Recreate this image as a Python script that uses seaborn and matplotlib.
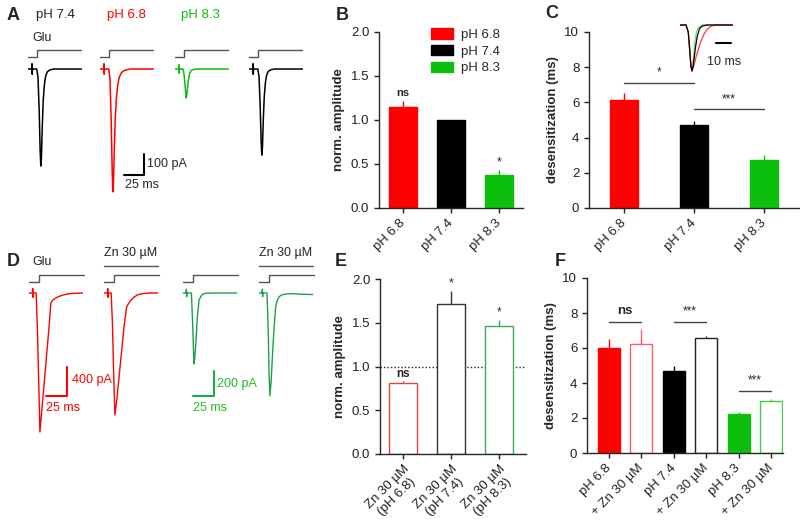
import numpy as np
import pandas as pd
import matplotlib
matplotlib.use('Agg')
import matplotlib.pyplot as plt
import seaborn as sns
from matplotlib.patches import Patch

# --- bar data ---
ph_labels = ['pH 6.8', 'pH 7.4', 'pH 8.3']
b_amp = [1.15, 1.0, 0.37]
b_sem = [0.07, 0.0, 0.06]
c_des = [6.15, 4.7, 2.7]
c_sem = [0.4, 0.25, 0.3]
e_labels = ['Zn 30 µM\n(pH 6.8)', 'Zn 30 µM\n(pH 7.4)', 'Zn 30 µM\n(pH 8.3)']
e_amp = [0.81, 1.72, 1.46]
e_sem = [0.03, 0.14, 0.07]
f_labels = ['pH 6.8', '+ Zn 30 µM', 'pH 7.4', '+ Zn 30 µM', 'pH 8.3', '+ Zn 30 µM']
f_des = [6.0, 6.25, 4.7, 6.6, 2.25, 3.0]
f_sem = [0.5, 0.85, 0.25, 0.1, 0.1, 0.1]

c_sig = [(0, 1, 7.1, '*'), (1, 2, 5.6, '***')]
f_sig = [(0, 1, 7.5, 'ns'), (2, 3, 7.5, '***'), (4, 5, 3.55, '***')]

# --- example currents (ms, pA) ---
glu_t = [0, 11.5, 11.5, 66]
glu_v = [0, 0, 1, 1]

a74_t = [0, 4.5, 5, 5.3, 5.6, 6, 11, 12.5, 14, 15.2, 16, 16.8, 17.8, 19, 20.5, 22, 24, 27, 32, 45, 67]
a74_i = [0, 0, 25, -25, 0, 0, 0, -40, -200, -390, -462, -420, -280, -150, -75, -35, -14, -5, 0, 0, 0]
a68_t = [0, 4.5, 5, 5.3, 5.6, 6, 11, 12.5, 14, 15.2, 16, 16.8, 17.8, 19, 20.5, 22, 24, 27, 31, 38, 67]
a68_i = [0, 0, 25, -25, 0, 0, 0, -50, -250, -480, -585, -545, -390, -240, -140, -80, -40, -16, -6, 0, 0]
a83_t = [0, 4.5, 5, 5.3, 5.6, 6, 10, 11.5, 13, 14, 15, 16.5, 18, 20, 23, 30, 67]
a83_i = [0, 0, 20, -20, 0, 0, 0, -30, -100, -138, -115, -60, -25, -8, -2, 0, 0]
a74b_t = [0, 4.5, 5, 5.3, 5.6, 6, 11, 12.5, 14, 15.2, 16, 16.8, 17.8, 19, 20.5, 22, 24, 27, 32, 45, 67]
a74b_i = [0, 0, 25, -25, 0, 0, 0, -35, -180, -345, -410, -375, -250, -135, -65, -30, -12, -4, 0, 0, 0]

d68_t = [0, 4, 4.5, 4.8, 5.1, 5.5, 8.5, 10, 11.5, 13, 15, 18, 21, 24, 26, 28, 31, 35, 40, 46, 55, 64]
d68_i = [0, 0, 60, -60, 0, 0, 0, -500, -1200, -1917, -1650, -1250, -850, -450, -140, -100, -75, -50, -30, -12, -3, 0]
d68zn_t = [0, 4, 4.5, 4.8, 5.1, 5.5, 8.5, 10, 11.5, 13, 15, 18, 21, 24, 27, 29, 32, 36, 40, 46, 55, 64]
d68zn_i = [0, 0, 60, -60, 0, 0, 0, -400, -1100, -1683, -1500, -1150, -800, -450, -190, -150, -100, -55, -25, -8, 0, 0]
d83_t = [0, 3.5, 4, 4.3, 4.6, 5, 10, 11.5, 13, 14, 15.5, 17, 19, 21, 23, 26, 35, 64]
d83_i = [0, 0, 30, -30, 0, 0, 0, -250, -568, -520, -380, -200, -60, -30, -12, -3, 0, 0]
d83zn_t = [0, 3.5, 4, 4.3, 4.6, 5, 9.5, 11, 12, 13, 14.5, 16, 18, 20, 22, 24, 27, 32, 40, 50, 64]
d83zn_i = [0, 0, 30, -30, 0, 0, 0, -300, -650, -824, -700, -500, -270, -100, -55, -30, -15, -8, -5, -10, -12]

# normalised traces for the inset in C
in74_t = [0, 4, 5.5, 6.5, 7.3, 8, 8.7, 9.5, 10.5, 11.5, 13, 15, 18, 35]
in74_v = [0, 0, -0.15, -0.55, -0.9, -1.0, -0.9, -0.7, -0.45, -0.25, -0.08, -0.02, 0, 0]
in68_t = [0, 4, 5.5, 6.5, 7.3, 8, 8.7, 9.5, 10.5, 12, 14, 16, 18, 20, 23, 35]
in68_v = [0, 0, -0.15, -0.55, -0.9, -1.0, -0.95, -0.85, -0.72, -0.55, -0.35, -0.2, -0.1, -0.04, 0, 0]
in83_t = [0, 4, 5.5, 6.5, 7.3, 8, 8.6, 9.3, 10, 11, 12.5, 15, 35]
in83_v = [0, 0, -0.15, -0.55, -0.9, -1.0, -0.85, -0.6, -0.35, -0.15, -0.04, 0, 0]

RED = '#ff0000'
BLACK = '#000000'
GREEN = '#0cbf0c'
DGREEN = '#1e9e4a'
GRAY = '#555555'

sns.set_theme(style='ticks')
plt.rcParams['font.family'] = ['Liberation Sans', 'DejaVu Sans']
plt.rcParams['axes.linewidth'] = 1.0
plt.rcParams['xtick.major.size'] = 3.5
plt.rcParams['ytick.major.size'] = 3.5
plt.rcParams['xtick.labelsize'] = 9.5
plt.rcParams['ytick.labelsize'] = 9.5

W, H = 800, 521
fig = plt.figure(figsize=(8, 5.21), dpi=100)


def px_axes(x0, y0, x1, y1):
    return fig.add_axes([x0 / W, 1 - y1 / H, (x1 - x0) / W, (y1 - y0) / H])


def trace_axes(x0, base_y, top_y, bot_y, width_px, ms_per_px, px_per_pa):
    ax = px_axes(x0, top_y, x0 + width_px, bot_y)
    ax.set_xlim(0, width_px * ms_per_px)
    ax.set_ylim(-(bot_y - base_y) / px_per_pa, (base_y - top_y) / px_per_pa)
    ax.set_axis_off()
    return ax


def step_axes(x0, hi_y, lo_y, width_px, ms_per_px):
    ax = px_axes(x0, hi_y, x0 + width_px, lo_y)
    ax.set_xlim(0, width_px * ms_per_px)
    ax.set_ylim(0, 1)
    ax.set_axis_off()
    sns.lineplot(x=glu_t, y=glu_v, ax=ax, color=GRAY, lw=1.0, estimator=None, sort=False, clip_on=False)
    return ax


def trace(ax, t, i, color, lw=1.0):
    sns.lineplot(x=t, y=i, ax=ax, color=color, lw=lw, estimator=None, sort=False)


def bar_panel(ax, vals, sems, face, edge, width):
    keys = [str(k) for k in range(len(vals))]
    sns.barplot(x=keys, y=vals, hue=keys, palette=edge, saturation=1, width=width,
                legend=False, ax=ax, linewidth=1.0)
    for p, fc, ec in zip(ax.patches, face, edge):
        p.set_facecolor(fc)
        p.set_edgecolor(ec)
    for k, (v, s, ec) in enumerate(zip(vals, sems, edge)):
        if s > 0:
            ax.errorbar(k, v, yerr=[[0], [s]], fmt='none', ecolor=ec, elinewidth=1.0, capsize=0)
    sns.despine(ax=ax)
    ax.set_xlabel('')
    ax.tick_params(axis='both', colors='#222222', width=1.0, direction='out')


# ---------------- Panel A ----------------
A_MS = 25 / 20
A_PX = 21 / 100
a_traces = [(28, a74_t, a74_i, BLACK), (100, a68_t, a68_i, RED),
            (175, a83_t, a83_i, GREEN), (249, a74b_t, a74b_i, BLACK)]
a_axes = []
for x0, t, i, col in a_traces:
    ax = trace_axes(x0, 69, 60, 200, 54, A_MS, A_PX)
    trace(ax, t, i, col, lw=1.1)
    step_axes(x0, 50, 57, 54, A_MS)
    a_axes.append(ax)

# scale bar (25 ms, 100 pA) in the red trace axes
ax = a_axes[1]
sb_y = -(175 - 69) / A_PX
ax.plot([30, 55, 55], [sb_y, sb_y, sb_y + 100], color=BLACK, lw=1.5, clip_on=False)
ax.text(59, sb_y + 50, '100 pA', fontsize=9, va='center', ha='left')
ax.text(31, sb_y - 20, '25 ms', fontsize=9, va='top', ha='left')

fig.text(7 / W, 1 - 15 / H, 'A', fontsize=13, fontweight='bold', va='center')
fig.text(55 / W, 1 - 15 / H, 'pH 7.4', fontsize=9.5, color='#222222', ha='center', va='center')
fig.text(126 / W, 1 - 15 / H, 'pH 6.8', fontsize=9.5, color=RED, ha='center', va='center')
fig.text(200 / W, 1 - 15 / H, 'pH 8.3', fontsize=9.5, color=GREEN, ha='center', va='center')
fig.text(32 / W, 1 - 38 / H, 'Glu', fontsize=9, color='#222222', ha='left', va='center')

# ---------------- Panel B ----------------
axB = px_axes(379, 32, 523, 208)
bar_panel(axB, b_amp, b_sem, [RED, BLACK, GREEN], [RED, BLACK, GREEN], 0.6)
axB.set_xlim(-0.5, 2.5)
axB.set_ylim(0, 2)
axB.set_yticks([0, 0.5, 1.0, 1.5, 2.0])
axB.set_yticklabels(['0.0', '0.5', '1.0', '1.5', '2.0'])
axB.set_xticks(range(3))
axB.set_xticklabels(ph_labels, rotation=45, ha='right', va='center', rotation_mode='anchor')
axB.tick_params(axis='x', pad=6)
axB.set_ylabel('norm. amplitude', fontsize=9.5, fontweight='bold')
axB.text(0, b_amp[0] + b_sem[0] + 0.03, 'ns', ha='center', va='bottom', fontsize=8, fontweight='bold')
axB.text(2, b_amp[2] + b_sem[2] + 0.02, '*', ha='center', va='bottom', fontsize=9)
handles = [Patch(facecolor=c, edgecolor=c, label=l) for c, l in zip([RED, BLACK, GREEN], ph_labels)]
axB.legend(handles=handles, loc='upper left', bbox_to_anchor=(0.36, 1.02), frameon=False,
           handlelength=1.7, handleheight=0.8, labelspacing=0.3, handletextpad=0.6,
           fontsize=9.5, borderaxespad=0, borderpad=0)
fig.text(336 / W, 1 - 15 / H, 'B', fontsize=13, fontweight='bold', va='center')

# ---------------- Panel C ----------------
axC = px_axes(589, 32, 799, 208)
bar_panel(axC, c_des, c_sem, [RED, BLACK, GREEN], [RED, BLACK, GREEN], 0.4)
axC.set_xlim(-0.5, 2.5)
axC.set_ylim(0, 10)
axC.set_yticks([0, 2, 4, 6, 8, 10])
axC.set_xticks(range(3))
axC.set_xticklabels(ph_labels, rotation=45, ha='right', va='center', rotation_mode='anchor')
axC.tick_params(axis='x', pad=6)
axC.set_ylabel('desensitization (ms)', fontsize=9.5, fontweight='bold')
for x0, x1, y, s in c_sig:
    axC.plot([x0, x1], [y, y], color='#444444', lw=1.0)
    axC.text((x0 + x1) / 2, y + 0.25, s, ha='center', va='bottom', fontsize=8.5)
fig.text(545 / W, 1 - 14 / H, 'C', fontsize=13, fontweight='bold', va='center')

# inset of normalised currents
IN_MS = 10 / 15
IN_PX = 46.0
axI = trace_axes(680, 25, 20, 75, 53, IN_MS, IN_PX)
trace(axI, in83_t, in83_v, '#66dd66', lw=0.9)
trace(axI, in68_t, in68_v, '#ff3b3b', lw=0.9)
trace(axI, in74_t, in74_v, BLACK, lw=0.9)
in_y = -(43 - 25) / IN_PX
axI.plot([24, 34], [in_y, in_y], color=BLACK, lw=1.5, clip_on=False)
axI.text(29.5, -(62 - 25) / IN_PX, '10 ms', fontsize=9, ha='center', va='center')

# ---------------- Panel D ----------------
D_MS = 25 / 21
D_PX_R = 29 / 400
D_PX_G = 25 / 200
d_traces = [(29, d68_t, d68_i, RED, D_PX_R), (104, d68zn_t, d68zn_i, RED, D_PX_R),
            (183, d83_t, d83_i, DGREEN, D_PX_G), (259, d83zn_t, d83zn_i, DGREEN, D_PX_G)]
d_axes = []
for x0, t, i, col, pxpa in d_traces:
    ax = trace_axes(x0, 293, 285, 440, 54, D_MS, pxpa)
    trace(ax, t, i, col, lw=1.0)
    sax = step_axes(x0, 275, 282, 54, D_MS)
    d_axes.append((ax, sax))

for k in (1, 3):
    sax = d_axes[k][1]
    sax.plot([0, 1], [2.3, 2.3], transform=sax.transAxes, color=GRAY, lw=1.0, clip_on=False)
    sax.text(0.5, 4.1, 'Zn 30 µM', transform=sax.transAxes, fontsize=9, color='#222222',
             ha='center', va='center')
fig.text(32 / W, 1 - 262 / H, 'Glu', fontsize=9, color='#222222', ha='left', va='center')

# red scale bar (25 ms, 400 pA)
ax = d_axes[0][0]
y0 = -(396 - 293) / D_PX_R
ax.plot([20.2, 45.2, 45.2], [y0, y0, y0 + 400], color=RED, lw=1.5, clip_on=False)
ax.text(51, y0 + 220, '400 pA', fontsize=9, color=RED, ha='left', va='center')
ax.text(20.2, y0 - 80, '25 ms', fontsize=9, color=RED, ha='left', va='top')

# green scale bar (25 ms, 200 pA)
ax = d_axes[2][0]
y0 = -(396 - 293) / D_PX_G
ax.plot([11.9, 36.9, 36.9], [y0, y0, y0 + 200], color='#18b040', lw=1.5, clip_on=False)
ax.text(40, y0 + 100, '200 pA', fontsize=9, color='#22bb22', ha='left', va='center')
ax.text(11.9, y0 - 45, '25 ms', fontsize=9, color='#22bb22', ha='left', va='top')

fig.text(7 / W, 1 - 262 / H, 'D', fontsize=13, fontweight='bold', va='center')

# ---------------- Panel E ----------------
axE = px_axes(380, 279, 526, 454)
e_edge = ['#e8413c', '#333333', '#3aaa5c']
bar_panel(axE, e_amp, e_sem, ['white'] * 3, e_edge, 0.58)
axE.set_xlim(-0.48, 2.56)
axE.set_ylim(0, 2)
axE.set_yticks([0, 0.5, 1.0, 1.5, 2.0])
axE.set_yticklabels(['0.0', '0.5', '1.0', '1.5', '2.0'])
axE.axhline(1.0, color='#222222', lw=1.0, ls=(0, (1, 1.5)), zorder=0)
axE.set_xticks(range(3))
axE.set_xticklabels(e_labels, rotation=45, ha='right', va='top', rotation_mode='anchor',
                    multialignment='center', linespacing=1.15)
axE.tick_params(axis='x', pad=3)
axE.set_ylabel('norm. amplitude', fontsize=9.5, fontweight='bold')
axE.text(0, e_amp[0] + e_sem[0] + 0.01, 'ns', ha='center', va='bottom', fontsize=8.5, fontweight='bold')
axE.text(1, e_amp[1] + e_sem[1] + 0.02, '*', ha='center', va='bottom', fontsize=8.5)
axE.text(2, e_amp[2] + e_sem[2] + 0.02, '*', ha='center', va='bottom', fontsize=8.5)
fig.text(335 / W, 1 - 262 / H, 'E', fontsize=13, fontweight='bold', va='center')

# ---------------- Panel F ----------------
axF = px_axes(587, 278, 783, 453)
f_edge = [RED, '#ff5a6e', BLACK, '#222222', GREEN, '#44cc44']
f_face = [RED, 'white', BLACK, 'white', GREEN, 'white']
bar_panel(axF, f_des, f_sem, f_face, f_edge, 0.68)
axF.set_xlim(-0.68, 5.37)
axF.set_ylim(0, 10)
axF.set_yticks([0, 2, 4, 6, 8, 10])
axF.set_xticks(range(6))
axF.set_xticklabels(f_labels, rotation=45, ha='right', va='center', rotation_mode='anchor')
axF.tick_params(axis='x', pad=6)
axF.set_ylabel('desensitization (ms)', fontsize=9.5, fontweight='bold')
for x0, x1, y, s in f_sig:
    axF.plot([x0, x1], [y, y], color='#444444', lw=1.0)
    if s == 'ns':
        axF.text((x0 + x1) / 2, y + 0.25, s, ha='center', va='bottom', fontsize=9.5, fontweight='bold')
    else:
        axF.text((x0 + x1) / 2, y + 0.25, s, ha='center', va='bottom', fontsize=8.5)
fig.text(555 / W, 1 - 262 / H, 'F', fontsize=13, fontweight='bold', va='center')

fig.savefig('out.png', dpi=100)
